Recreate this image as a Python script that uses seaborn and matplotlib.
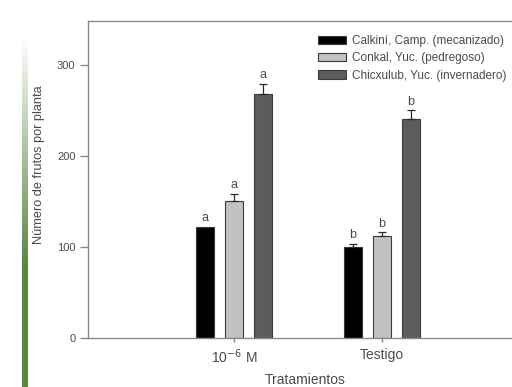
import numpy as np
import pandas as pd
import matplotlib
matplotlib.use("Agg")
import matplotlib.pyplot as plt
import seaborn as sns

# ---- data ----
treatments = ["10$^{-6}$ M", "Testigo"]
sites = ["Calkiní, Camp. (mecanizado)", "Conkal, Yuc. (pedregoso)", "Chicxulub, Yuc. (invernadero)"]
calkini = [122, 100]
conkal = [150, 112]
chicxulub = [268, 240]
calkini_err = [0, 3]
conkal_err = [8, 4]
chicxulub_err = [11, 10]
calkini_letters = ["a", "b"]
conkal_letters = ["a", "b"]
chicxulub_letters = ["a", "b"]
yticks = [0, 100, 200, 300]

values = [calkini, conkal, chicxulub]
errs = [calkini_err, conkal_err, chicxulub_err]
letters = [calkini_letters, conkal_letters, chicxulub_letters]

rows = []
for s, vals in zip(sites, values):
    for t, v in zip(treatments, vals):
        rows.append({"Tratamiento": t, "Sitio": s, "Frutos": v})
df = pd.DataFrame(rows)

sns.set_style("white")
plt.rcParams["font.family"] = ["Liberation Sans", "DejaVu Sans"]

txt = "#4a4a4a"
spine_c = "#8a8a8a"
colors = ["#000000", "#c2c2c2", "#5c5c5c"]

fig = plt.figure(figsize=(5.12, 3.87), dpi=100)

# decorative green gradient strip at left (white at top -> green below)
gax = fig.add_axes([22/512, 0, 6/512, 1-35/387])
grad = np.linspace(0, 1, 256)
alpha = np.clip(grad * 1.5, 0, 1)[:, None, None]
green = np.array([0x5a, 0x84, 0x42]) / 255.0
img = np.ones((256, 1, 3)) * (1 - alpha) + green[None, None, :] * alpha
gax.imshow(img, aspect="auto", origin="upper", extent=[0, 1, 0, 1])
gax.set_axis_off()
gax.set_zorder(-1)

ax = fig.add_axes([88/512, 1-338/387, 440/512, (338-21)/387])

sns.barplot(data=df, x="Tratamiento", y="Frutos", hue="Sitio", hue_order=sites,
            order=treatments, palette=colors, width=0.588, gap=0.38,
            edgecolor="#3a3a3a", linewidth=0.8, errorbar=None, ax=ax)

bar_conts = list(ax.containers)
for i, cont in enumerate(bar_conts):
    for j, bar in enumerate(cont.patches):
        xc = bar.get_x() + bar.get_width()/2
        h = bar.get_height()
        e = errs[i][j]
        if e > 0:
            ax.errorbar([xc], [h], yerr=[[0], [e]], fmt="none", ecolor="#2a2a2a",
                        elinewidth=0.9, capsize=3.2, capthick=0.9)
        ax.text(xc, h + e + 3, letters[i][j], ha="center", va="bottom",
                fontsize=9, color=txt)

ax.set_xlim(-0.986, 1.986)
ax.set_ylim(0, 348)
ax.set_yticks(yticks)
ax.set_xlabel("")
ax.set_ylabel("Número de frutos por planta", fontsize=9.2, color=txt)
ax.yaxis.set_label_coords(-(88-45)/440, (338-165)/317)
ax.tick_params(axis="both", colors=spine_c, labelcolor=txt,
               direction="out", width=1, bottom=True, left=True)
ax.tick_params(axis="y", length=6, pad=3, labelsize=8)
ax.tick_params(axis="x", length=3, pad=4, labelsize=10)
for side in ["left", "bottom", "top", "right"]:
    ax.spines[side].set_color(spine_c)
    ax.spines[side].set_linewidth(1)

fig.text(305/512, 1-380/387, "Tratamientos", ha="center", va="center",
         fontsize=10, color=txt)

handles = [c.patches[0] for c in bar_conts]
if ax.get_legend() is not None:
    ax.get_legend().remove()
fig.legend(handles, sites, loc="upper left", bbox_to_anchor=(318/512, 1-35/387),
           frameon=False, fontsize=8.5, labelcolor=txt, handlelength=2.4,
           handleheight=0.68, handletextpad=0.5, labelspacing=0.45,
           borderpad=0, borderaxespad=0)

fig.savefig("out.png", dpi=100)
